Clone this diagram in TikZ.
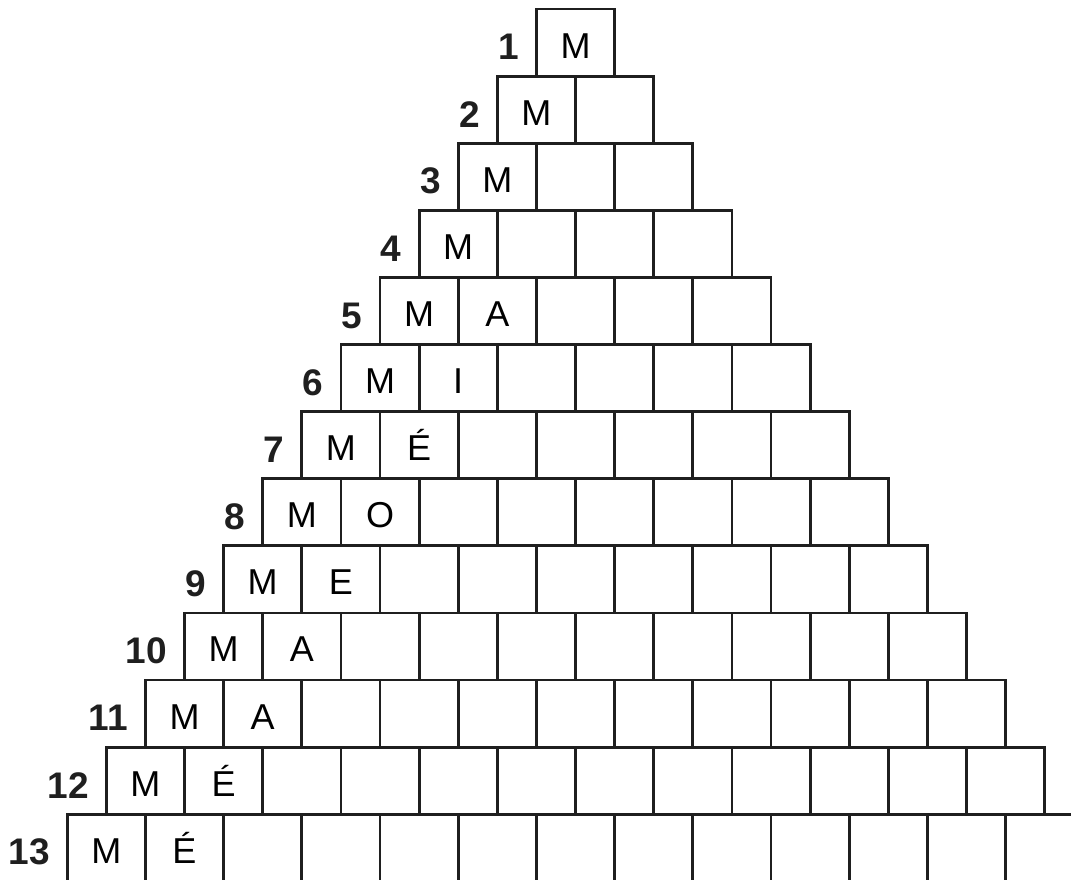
\documentclass[tikz,border=0pt]{standalone}
\usepackage{fontspec}
\setmainfont{Liberation Sans}
\tikzset{
  cell/.style={draw=black!88, line width=2.8pt, minimum width=78.2pt, minimum height=67.1pt,
    inner sep=0pt, text height=31pt, text depth=0pt,
    font=\fontsize{36}{36}\selectfont},
  num/.style={inner sep=0pt, anchor=east, text=black!88, font=\fontsize{37}{37}\selectfont\bfseries}
}
\begin{document}
\begin{tikzpicture}[x=1pt,y=-1pt]
\useasboundingbox (0,0) rectangle (1071,879);
\foreach \r/\s in {1/,2/,3/,4/,5/A,6/I,7/É,8/O,9/E,10/A,11/A,12/É,13/É} {
  \foreach \c in {1,...,\r} {
    \pgfmathsetmacro\xc{575.5 - 39.1*\r + 78.2*(\c-0.5)}
    \pgfmathsetmacro\yc{9 + 67.1*(\r-1) + 33.55}
    \node[cell] (b\r-\c) at (\xc,\yc) {\ifnum\c=1 M\else\ifnum\c=2 \s\fi\fi};
  }
  \node[num] (n\r) at ([xshift=-16pt,yshift=-4.5pt]b\r-1.west) {\r};
}
\end{tikzpicture}
\end{document}
